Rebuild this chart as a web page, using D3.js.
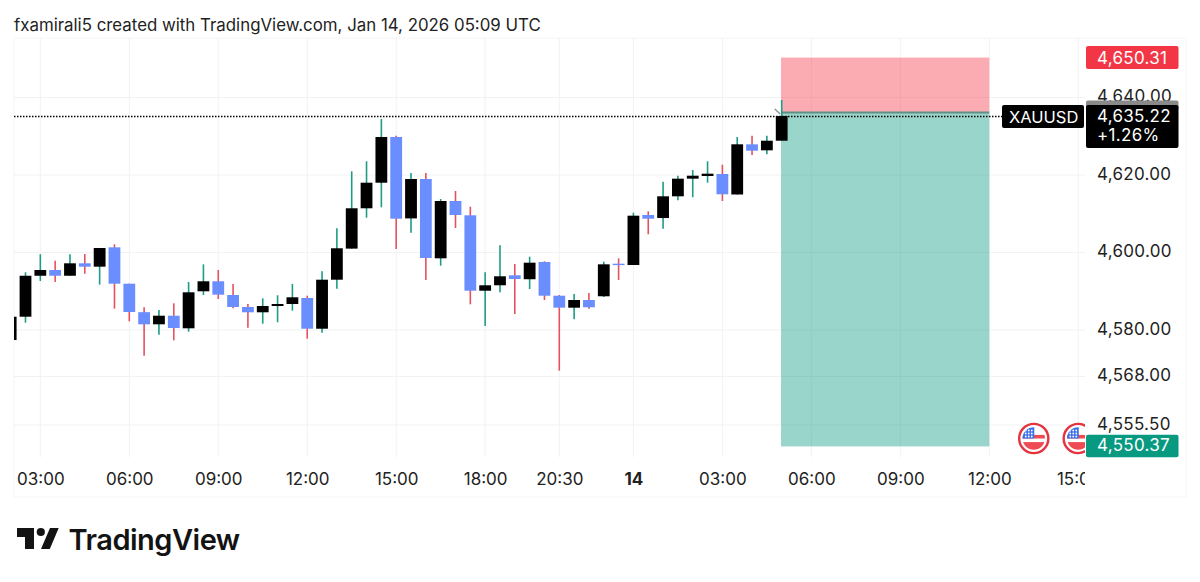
<!DOCTYPE html>
<html>
<head>
<meta charset="utf-8">
<script src="https://cdn.jsdelivr.net/npm/d3@7"></script>
<style>
  html, body { margin: 0; padding: 0; background: #fff; }
  svg { display: block; }
  text { font-family: Inter, "Noto Sans", sans-serif; }
</style>
</head>
<body>
<script>
// 30 min candles
const opens = [4577.42,4583.43,4594.00,4595.48,4594.00,4597.21,4596.34,4601.34,4591.95,4584.60,4581.47,4583.69,4580.44,4589.99,4592.57,4589.03,4585.94,4584.57,4586.19,4586.71,4588.26,4580.33,4592.98,4601.00,4611.41,4618.01,4629.81,4608.80,4618.97,4598.50,4613.29,4609.60,4590.14,4591.54,4594.12,4593.10,4597.55,4588.85,4585.76,4587.74,4588.70,4597.11,4596.77,4609.68,4608.90,4614.50,4619.05,4619.74,4620.26,4614.97,4627.92,4626.37,4628.85];
const highs = [4583.43,4594.89,4599.56,4597.88,4599.56,4599.61,4601.16,4602.12,4591.95,4585.86,4585.16,4586.89,4592.39,4596.95,4595.48,4591.87,4586.71,4588.18,4588.96,4591.87,4588.85,4595.15,4606.25,4620.95,4623.54,4634.45,4630.14,4620.52,4620.52,4613.81,4615.87,4611.82,4594.89,4601.86,4597.03,4598.92,4597.73,4589.03,4589.29,4589.55,4597.63,4598.50,4610.27,4610.63,4618.27,4619.82,4621.29,4623.54,4622.66,4629.81,4630.14,4630.14,4639.35];
const lows = [4577.42,4581.88,4592.65,4592.39,4594.00,4594.53,4591.69,4585.50,4582.25,4573.37,4578.79,4577.34,4579.56,4589.03,4588.00,4585.60,4580.59,4581.63,4581.99,4584.98,4577.76,4579.30,4590.66,4601.00,4608.98,4611.66,4600.90,4605.11,4592.90,4596.59,4606.32,4586.63,4581.03,4589.73,4584.13,4590.58,4587.74,4569.50,4582.76,4585.50,4588.52,4592.90,4596.77,4604.70,4606.14,4613.47,4614.25,4618.01,4613.29,4614.97,4625.16,4625.34,4628.85];
const closes = [4583.43,4594.00,4595.48,4594.00,4597.21,4596.34,4601.16,4591.95,4584.65,4581.47,4583.69,4580.52,4589.73,4592.57,4589.11,4585.94,4584.57,4586.19,4586.71,4588.44,4580.33,4592.98,4601.09,4611.41,4618.01,4629.81,4608.72,4618.97,4598.58,4613.29,4609.68,4590.14,4591.54,4593.86,4593.16,4597.37,4588.85,4585.76,4587.74,4585.86,4596.95,4596.77,4609.50,4608.72,4614.50,4619.05,4619.82,4620.34,4615.02,4627.92,4626.27,4628.85,4635.22];

const priceTicks = [4640, 4620, 4600, 4580, 4568, 4555.5];
const timeTickBars = [2, 8, 14, 20, 26, 32, 37, 42, 48, 54, 60, 66, 72];
const timeTickLabels = ["03:00","06:00","09:00","12:00","15:00","18:00","20:30","14","03:00","06:00","09:00","12:00","15:00"];
const eventBars = [69, 72];

const lastPrice = 4635.22;
const lastChange = "+1.26%";
const symbol = "XAUUSD";
const stopPrice = 4650.31;
const entryPrice = 4636.13;
const targetPrice = 4550.37;
const toolStartBar = 52;
const toolEndBar = 66;

const w = 1200, h = 582;
const left = 14, paneRight = 1085, top_ = 38, paneBottom = 457, frameRight = 1186, frameBottom = 497;

const upBody = "#000000", downBody = "#6b8eff", upWick = "#1e9c86", downWick = "#e5515f", grid = "#f1f2f4";

const svg = d3.select("body").append("svg").attr("width", w).attr("height", h);

const x = d3.scaleLinear().domain([1, 52]).range([25.5, 781.7]);
const y = d3.scaleLinear().domain([4580, 4620]).range([330, 175]);

const defs = svg.append("defs");
defs.append("clipPath").attr("id", "pane")
  .append("rect").attr("x", left).attr("y", top_).attr("width", paneRight - left).attr("height", paneBottom - top_);
defs.append("clipPath").attr("id", "flagIn").append("circle").attr("r", 11.2);
defs.append("clipPath").attr("id", "timeClip")
  .append("rect").attr("x", left).attr("y", 458).attr("width", paneRight - left).attr("height", 38);

// title
svg.append("text").attr("x", 14).attr("y", 31).attr("font-size", 16.85).attr("fill", "#222")
  .text("fxamirali5 created with TradingView.com, Jan 14, 2026 05:09 UTC");

// frame
svg.append("path")
  .attr("d", `M${left},${top_}H${frameRight}V${frameBottom}H${left}Z`)
  .attr("fill", "none").attr("stroke", "#f5f6f7").attr("stroke-width", 1);

const pane = svg.append("g").attr("clip-path", "url(#pane)");

// grid
pane.selectAll(".hgrid").data(priceTicks).enter().append("line")
  .attr("x1", left).attr("x2", paneRight)
  .attr("y1", d => y(d)).attr("y2", d => y(d))
  .attr("stroke", grid);
pane.selectAll(".vgrid").data(timeTickBars).enter().append("line")
  .attr("y1", top_).attr("y2", paneBottom)
  .attr("x1", d => x(d)).attr("x2", d => x(d))
  .attr("stroke", grid);

// long/short position tool
const tx0 = x(toolStartBar) - 0.7, tx1 = x(toolEndBar);
pane.append("rect").attr("x", tx0).attr("width", tx1 - tx0)
  .attr("y", y(stopPrice)).attr("height", y(entryPrice) - y(stopPrice))
  .attr("fill", "#f23645").attr("fill-opacity", 0.41);
pane.append("rect").attr("x", tx0).attr("width", tx1 - tx0)
  .attr("y", y(entryPrice)).attr("height", y(targetPrice) - y(entryPrice) + 1.6)
  .attr("fill", "#089981").attr("fill-opacity", 0.41);
pane.append("line").attr("x1", tx0).attr("x2", tx1)
  .attr("y1", y(entryPrice)).attr("y2", y(entryPrice))
  .attr("stroke", "#5f8f86").attr("stroke-width", 1.8);

// candles
const bars = d3.range(opens.length);
pane.selectAll(".wick").data(bars).enter().append("line")
  .attr("x1", i => x(i)).attr("x2", i => x(i))
  .attr("y1", i => y(highs[i])).attr("y2", i => y(lows[i]))
  .attr("stroke", i => closes[i] >= opens[i] ? upWick : downWick)
  .attr("stroke-width", 1.6);
pane.selectAll(".body").data(bars).enter().append("rect")
  .attr("x", i => x(i) - 5.9).attr("width", 11.8)
  .attr("y", i => y(Math.max(opens[i], closes[i])))
  .attr("height", i => Math.max(1.4, Math.abs(y(opens[i]) - y(closes[i]))))
  .attr("fill", i => closes[i] >= opens[i] ? upBody : downBody);

// small arrow of the drawing tool
pane.append("path")
  .attr("d", `M${x(52) - 7},${y(entryPrice) - 3.5}L${x(52) - 1.5},${y(entryPrice) + 1.5}`)
  .attr("stroke", "#8d8f93").attr("stroke-width", 1.3).attr("fill", "none");

// last price line
svg.append("line").attr("x1", left).attr("x2", 1002)
  .attr("y1", y(lastPrice) + 0.5).attr("y2", y(lastPrice) + 0.5)
  .attr("stroke", "#000").attr("stroke-width", 1.6).attr("stroke-dasharray", "1.5 1.5");

// event flags
const flag = pane.selectAll(".flag").data(eventBars).enter().append("g")
  .attr("transform", d => `translate(${x(d)},438.5)`);
flag.append("circle").attr("r", 14.6).attr("fill", "#fff").attr("stroke", "#e5333f").attr("stroke-width", 2.4);
const inner = flag.append("g").attr("clip-path", "url(#flagIn)");
inner.append("rect").attr("x", -12).attr("y", -12).attr("width", 24).attr("height", 24).attr("fill", "#fff");
inner.append("rect").attr("x", -12).attr("y", -3.6).attr("width", 24).attr("height", 3.6).attr("fill", "#ef4b55");
inner.append("rect").attr("x", -12).attr("y", 3.6).attr("width", 24).attr("height", 9).attr("fill", "#ef4b55");
inner.append("rect").attr("x", -12).attr("y", -12).attr("width", 12.5).attr("height", 12).attr("fill", "#3d6fe8");
inner.selectAll(".star").data(d3.cross([-8, -5, -2], [-8, -5, -2])).enter().append("circle")
  .attr("cx", d => d[0]).attr("cy", d => d[1]).attr("r", 0.9).attr("fill", "#fff");

// price axis
const yAxis = d3.axisRight(y).tickValues(priceTicks).tickFormat(d3.format(",.2f")).tickSize(0).tickPadding(0);
const yG = svg.append("g").attr("transform", "translate(1097,-1)").call(yAxis);
yG.select(".domain").remove();
yG.selectAll("text").attr("font-size", 17).attr("letter-spacing", 0.3).attr("fill", "#222").attr("font-family", "Inter, sans-serif");

// time axis
const xAxis = d3.axisBottom(x).tickValues(timeTickBars)
  .tickFormat(d => timeTickLabels[timeTickBars.indexOf(d)]).tickSize(0).tickPadding(0);
const xG = svg.append("g").attr("clip-path", "url(#timeClip)").append("g").attr("transform", "translate(0,473)").call(xAxis);
xG.select(".domain").remove();
xG.selectAll("text").attr("font-size", 17).attr("fill", "#222").attr("font-family", "Inter, sans-serif")
  .attr("font-weight", (d, i) => timeTickLabels[i] === "14" ? 700 : 400);

// price labels
function priceTag(yTop, height, fill) {
  svg.append("rect").attr("x", 1086).attr("y", yTop).attr("width", 92.5).attr("height", height).attr("rx", 2).attr("fill", fill);
}
function tagText(tx, ty, str) {
  svg.append("text").attr("x", tx).attr("y", ty).attr("font-size", 17).attr("letter-spacing", 0.3).attr("fill", "#fff").text(str);
}
const fmt = d3.format(",.2f");
priceTag(y(stopPrice) - 11.5, 23, "#f23645");
tagText(1097, y(stopPrice) + 6, fmt(stopPrice));
priceTag(100.5, 10, "#8a8a8a");
priceTag(105, 43, "#000");
tagText(1097, 122, fmt(lastPrice));
tagText(1097, 141, lastChange);
svg.append("rect").attr("x", 1002).attr("y", 105).attr("width", 82).attr("height", 23).attr("rx", 2).attr("fill", "#000");
svg.append("text").attr("x", 1009).attr("y", 122.5).attr("font-size", 16.5).attr("fill", "#fff").text(symbol);
priceTag(y(targetPrice) - 10, 22.5, "#089981");
tagText(1097, y(targetPrice) + 6, fmt(targetPrice));

// logo
const logo = svg.append("g").attr("fill", "#131313");
logo.append("path").attr("d", "M17,528H34V549H25V537H17Z");
logo.append("circle").attr("cx", 40.8).attr("cy", 532).attr("r", 4.1);
logo.append("path").attr("d", "M50,528H58.7L49.8,549H41Z");
logo.append("text").attr("x", 68.5).attr("y", 549.5).attr("font-size", 29).attr("font-weight", 600)
  .attr("letter-spacing", -0.5).attr("fill", "#131313").text("TradingView");
</script>
</body>
</html>
